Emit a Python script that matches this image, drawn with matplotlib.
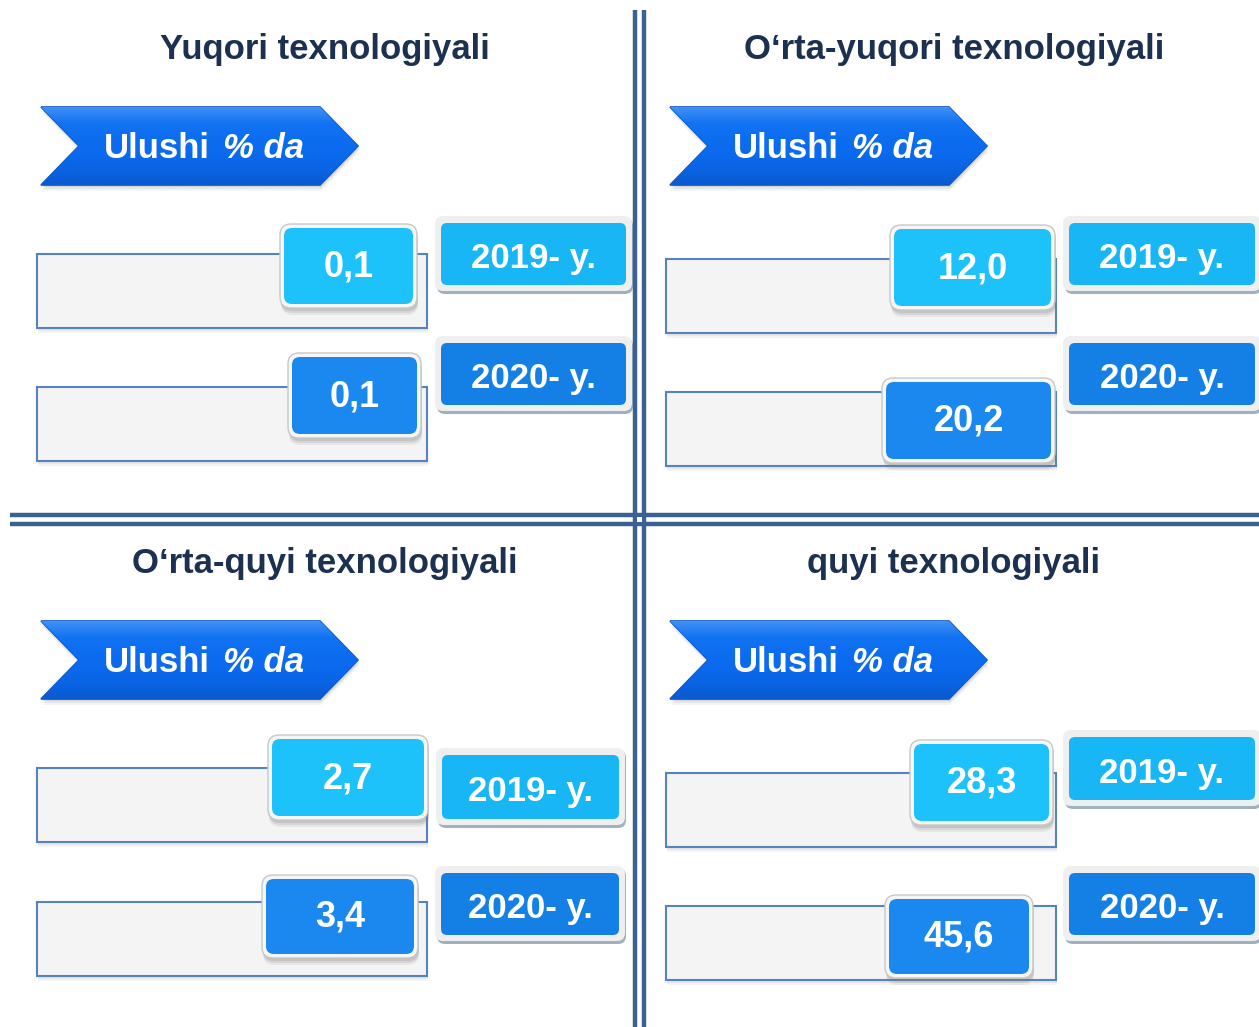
import numpy as np
import matplotlib
matplotlib.use("Agg")
import matplotlib.pyplot as plt
from matplotlib.patches import FancyBboxPatch, Polygon, Rectangle

plt.rcParams['font.family'] = ['Liberation Sans', 'DejaVu Sans']

# ---------------- data ----------------
panel_titles = ["Yuqori texnologiyali", "O\u2018rta-yuqori texnologiyali",
                "O\u2018rta-quyi texnologiyali", "quyi texnologiyali"]
years = ["2019- y.", "2020- y."]
values_2019 = [0.1, 12.0, 2.7, 28.3]
values_2020 = [0.1, 20.2, 3.4, 45.6]
banner_word = "Ulushi"
banner_unit = "% da"

# ---------------- layout (pixels) ----------------
W, H = 1259, 1027
fig = plt.figure(figsize=(W / 100, H / 100), dpi=100)
ax = fig.add_axes([0, 0, 1, 1])
ax.set_xlim(0, W)
ax.set_ylim(H, 0)
ax.axis('off')

origins = [(0, 0), (629, 0), (0, 514), (629, 514)]
bar_y = [(254, 387), (259, 392), (254, 388), (259, 392)]
val_boxes = [
    [(280, 417, 224, 308), (288, 421, 353, 438)],
    [(261, 426, 225, 310), (253, 426, 378, 463)],
    [(268, 428, 221, 306), (262, 418, 361, 444)],
    [(281, 424, 226, 311), (256, 404, 381, 464)],
]
year_boxes = [
    [(441, 626, 223, 285), (441, 626, 343, 405)],
    [(440, 626, 223, 285), (440, 626, 343, 405)],
    [(442, 619, 241, 305), (441, 619, 359, 421)],
    [(440, 626, 223, 286), (440, 626, 359, 421)],
]
val_colors = ["#1ec2fb", "#1b88f0"]
year_colors = ["#19b6f6", "#1480e6"]
title_color = "#1c3050"
line_color = "#3b6092"


def fmt(v):
    return f"{v:.1f}".replace(".", ",")


def rbox(x0, x1, y0, y1, r, fc, ec="none", lw=0, z=2, alpha=1.0):
    p = FancyBboxPatch((x0 + r, y0 + r), (x1 - x0) - 2 * r, (y1 - y0) - 2 * r,
                       boxstyle=f"round,pad={r},rounding_size={r}",
                       fc=fc, ec=ec, lw=lw, zorder=z, alpha=alpha)
    ax.add_patch(p)
    return p


def banner(ox, oy):
    x0, x1, xt, xn = ox + 41, ox + 320, ox + 358, ox + 79
    y0, y1 = oy + 107, oy + 185
    ym = (y0 + y1) / 2
    pts = [(x0, y0), (x1, y0), (xt, ym), (x1, y1), (x0, y1), (xn, ym)]
    for k, a in ((6, 0.08), (4, 0.12), (2, 0.16)):
        sh = Polygon([(x + 1, y + k) for x, y in pts], closed=True, fc="#7a7a7a",
                     ec="none", alpha=a, zorder=2)
        ax.add_patch(sh)
    poly = Polygon(pts, closed=True, fc="#0b6cf0", ec="#0a56c6", lw=1.2, zorder=3)
    ax.add_patch(poly)
    grad = np.linspace(0, 1, 64).reshape(-1, 1)
    cmap = matplotlib.colors.LinearSegmentedColormap.from_list(
        "b", ["#3f90f6", "#1274f2", "#0c6df0", "#0b6aee", "#0a64e4", "#0a5ad0"])
    im = ax.imshow(grad, extent=(x0, xt, y1, y0), cmap=cmap, aspect='auto',
                   zorder=3.1, interpolation='bilinear')
    im.set_clip_path(poly)
    ax.text(ox + 210, oy + 145, banner_word, color="white", fontsize=25,
            fontweight='bold', ha='right', va='center_baseline', zorder=5)
    ax.text(ox + 223, oy + 145, banner_unit, color="white", fontsize=25,
            fontweight='bold', fontstyle='italic', ha='left', va='center_baseline',
            zorder=5)


for i, (ox, oy) in enumerate(origins):
    ax.text(ox + 325, oy + 46.5, panel_titles[i], color=title_color, fontsize=25,
            fontweight='bold', ha='center', va='center_baseline', zorder=5)
    banner(ox, oy)
    vals = [values_2019[i], values_2020[i]]
    for j in range(2):
        by = bar_y[i][j]
        bx0, bx1 = ox + 37, ox + 427
        for k, a in ((5, 0.10), (3, 0.15)):
            ax.add_patch(Rectangle((bx0 + 1, oy + by + k), bx1 - bx0, 74, fc="#9a9a9a",
                                   ec="none", alpha=a, zorder=1.5))
        ax.add_patch(Rectangle((bx0, oy + by), bx1 - bx0, 74, fc="#f4f4f4",
                               ec="#5582c0", lw=1.5, zorder=2))
        # value box
        x0, x1, y0, y1 = val_boxes[i][j]
        x0, x1, y0, y1 = ox + x0, ox + x1, oy + y0, oy + y1
        for k, a in ((7, 0.10), (5, 0.15), (3, 0.2)):
            rbox(x0 + 1, x1 + 1, y0 + k, y1 + k, 11, "#7a7a7a", z=3, alpha=a)
        rbox(x0, x1, y0, y1, 11, "#f6f6f6", ec="#c8c8c8", lw=1.0, z=3.2)
        rbox(x0 + 4, x1 - 4, y0 + 4, y1 - 4, 8, val_colors[j], z=3.4)
        ax.text((x0 + x1) / 2, (y0 + y1) / 2 + 1, fmt(vals[j]), color="white",
                fontsize=26, fontweight='bold', ha='center', va='center', zorder=5)
        # year box
        x0, x1, y0, y1 = year_boxes[i][j]
        x0, x1, y0, y1 = ox + x0, ox + x1, oy + y0, oy + y1
        rbox(x0 - 4, x1 + 7, y0 - 5, y1 + 9, 8, "#9fb1bf", z=3)
        rbox(x0 - 6, x1 + 6, y0 - 7, y1 + 6, 8, "#efefef", z=3.2)
        rbox(x0, x1, y0, y1, 6, year_colors[j], z=3.4)
        ax.text((x0 + x1) / 2, (y0 + y1) / 2 + 1, years[j], color="white",
                fontsize=25, fontweight='bold', ha='center', va='center_baseline',
                zorder=5)

# divider double lines
for x in (635, 644):
    ax.plot([x, x], [10, H], color=line_color, lw=3.2, zorder=6,
            solid_capstyle='butt')
for y in (515, 524):
    ax.plot([10, W], [y, y], color=line_color, lw=3.2, zorder=6,
            solid_capstyle='butt')
ax.add_patch(Rectangle((637, 517), 5, 5, fc="white", ec="none", zorder=7))

fig.savefig("out.png", dpi=100)
